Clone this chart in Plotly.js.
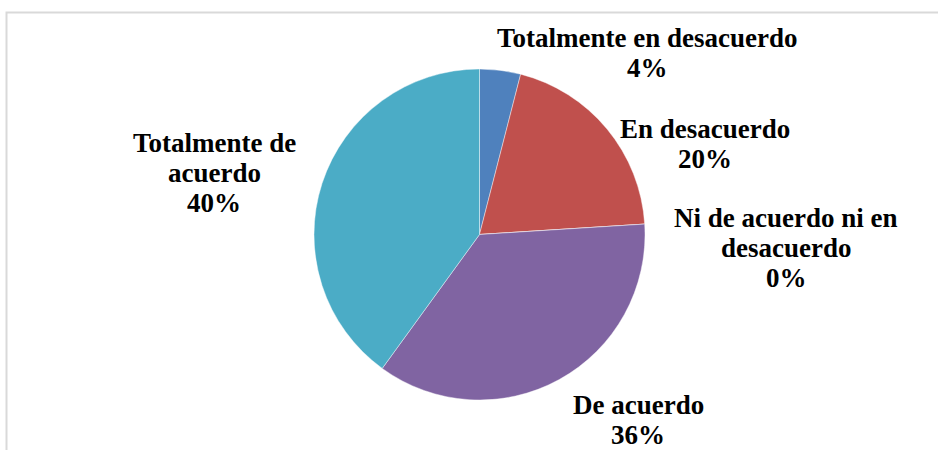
<!DOCTYPE html>
<html>
<head>
<meta charset="utf-8">
<script src="https://cdn.plot.ly/plotly-3.0.1.min.js"></script>
<style>
  html, body { margin: 0; padding: 0; background: #ffffff; }
  #chart { width: 938px; height: 450px; }
</style>
</head>
<body>
<div id="chart"></div>
<script>
// Data
const categories = [
  "Totalmente en desacuerdo",
  "En desacuerdo",
  "Ni de acuerdo ni en desacuerdo",
  "De acuerdo",
  "Totalmente de acuerdo"
];
const values = [4, 20, 0, 36, 40];
const labelLines = [
  ["Totalmente en desacuerdo"],
  ["En desacuerdo"],
  ["Ni de acuerdo ni en", "desacuerdo"],
  ["De acuerdo"],
  ["Totalmente de", "acuerdo"]
];
const colors = ["#4F81BD", "#C0504D", "#9BBB59", "#8064A2", "#4BACC6"];

const W = 938, H = 450;
// label centre positions in pixels (x centre, y of first baseline)
const labelPos = [
  [647, 47],
  [705, 138],
  [786, 227],
  [638, 414],
  [214, 152]
];
const total = values.reduce((a, b) => a + b, 0);
const LH = 30; // line spacing
const annotations = [];
categories.forEach((c, i) => {
  const lines = labelLines[i].concat([Math.round(values[i] / total * 100) + "%"]);
  lines.forEach((ln, k) => {
    const base = labelPos[i][1] + k * LH;
    annotations.push({
      xref: "paper", yref: "paper",
      x: labelPos[i][0] / W,
      y: 1 - (base - 9) / H,
      xanchor: "center", yanchor: "middle",
      text: "<b>" + ln + "</b>",
      showarrow: false,
      font: { family: "Liberation Serif", size: 27, color: "#000000" }
    });
  });
});

const cx = 479.5, cy = 234.5, r = 165.5;
const trace = {
  type: "pie",
  labels: categories,
  values: values,
  sort: false,
  direction: "clockwise",
  rotation: 0,
  textinfo: "none",
  hoverinfo: "label+percent",
  marker: { colors: colors, line: { color: "rgba(255,255,255,0.6)", width: 0.7 } },
  domain: {
    x: [(cx - r) / W, (cx + r) / W],
    y: [1 - (cy + r) / H, 1 - (cy - r) / H]
  },
  showlegend: false
};

const layout = {
  width: W, height: H,
  margin: { l: 0, r: 0, t: 0, b: 0 },
  paper_bgcolor: "#ffffff",
  showlegend: false,
  font: { family: "Liberation Serif" },
  annotations: annotations,
  shapes: [{
    type: "rect", xref: "paper", yref: "paper",
    x0: 6.5 / W, x1: 1.05, y0: -0.05, y1: 1 - 12.5 / H,
    line: { color: "#d9d9d9", width: 2 }, fillcolor: "rgba(0,0,0,0)", layer: "below"
  }]
};

Plotly.newPlot("chart", [trace], layout, { displayModeBar: false, staticPlot: true });
</script>
</body>
</html>
